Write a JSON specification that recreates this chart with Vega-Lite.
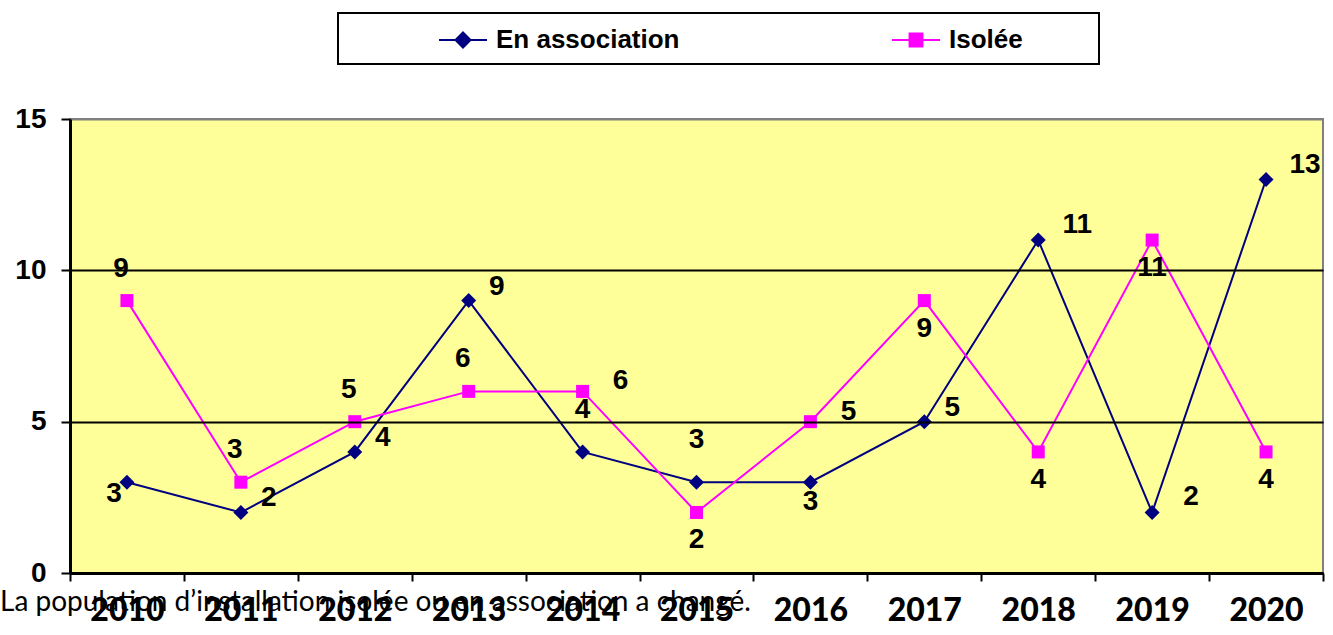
{
  "$schema": "https://vega.github.io/schema/vega-lite/v6.json",
  "width": 1253,
  "height": 454,
  "autosize": {"type": "none"},
  "padding": {"left": 70, "top": 119, "right": 10, "bottom": 62},
  "background": "white",
  "config": {
    "view": {"fill": "#FFFF99", "stroke": "#808080", "strokeWidth": 2}
  },
  "title": {
    "text": "La population d’installation isolée ou en association a changé.",
    "orient": "bottom",
    "anchor": "start",
    "frame": "group",
    "dx": -70,
    "offset": -37,
    "font": "Lato",
    "fontSize": 28,
    "fontWeight": "normal",
    "color": "black"
  },
  "data": {
    "values": [
      {"year": 2010, "series": "En association", "value": 3},
      {"year": 2011, "series": "En association", "value": 2},
      {"year": 2012, "series": "En association", "value": 4},
      {"year": 2013, "series": "En association", "value": 9},
      {"year": 2014, "series": "En association", "value": 4},
      {"year": 2015, "series": "En association", "value": 3},
      {"year": 2016, "series": "En association", "value": 3},
      {"year": 2017, "series": "En association", "value": 5},
      {"year": 2018, "series": "En association", "value": 11},
      {"year": 2019, "series": "En association", "value": 2},
      {"year": 2020, "series": "En association", "value": 13},
      {"year": 2010, "series": "Isolée", "value": 9},
      {"year": 2011, "series": "Isolée", "value": 3},
      {"year": 2012, "series": "Isolée", "value": 5},
      {"year": 2013, "series": "Isolée", "value": 6},
      {"year": 2014, "series": "Isolée", "value": 6},
      {"year": 2015, "series": "Isolée", "value": 2},
      {"year": 2016, "series": "Isolée", "value": 5},
      {"year": 2017, "series": "Isolée", "value": 9},
      {"year": 2018, "series": "Isolée", "value": 4},
      {"year": 2019, "series": "Isolée", "value": 11},
      {"year": 2020, "series": "Isolée", "value": 4}
    ]
  },
  "encoding": {
    "x": {
      "field": "year",
      "type": "ordinal",
      "scale": {"type": "band", "paddingInner": 0, "paddingOuter": 0},
      "axis": {
        "title": null,
        "labelAngle": 0,
        "tickBand": "extent",
        "grid": false,
        "domainColor": "black",
        "domainWidth": 3,
        "tickColor": "black",
        "tickWidth": 2,
        "tickSize": 8,
        "labelFont": "Lato",
        "labelFontWeight": 900,
        "labelFontSize": 32,
        "labelColor": "black",
        "labelPadding": 14,
        "zindex": 1
      }
    },
    "y": {
      "field": "value",
      "type": "quantitative",
      "scale": {"domain": [0, 15], "nice": false},
      "axis": {
        "title": null,
        "values": [0, 5, 10, 15],
        "grid": true,
        "gridColor": {"condition": {"test": "datum.value == 15", "value": "#808080"}, "value": "black"},
        "gridWidth": 2,
        "domainColor": "black",
        "domainWidth": 3,
        "tickColor": "black",
        "tickWidth": 2,
        "tickSize": 9,
        "labelFont": "Liberation Sans",
        "labelFontWeight": "bold",
        "labelFontSize": 28,
        "labelColor": "black",
        "labelPadding": 15,
        "zindex": 1
      }
    }
  },
  "layer": [
    {
      "mark": {"type": "line", "strokeWidth": 2},
      "encoding": {
        "color": {
          "field": "series",
          "type": "nominal",
          "scale": {"domain": ["En association", "Isolée"], "range": ["#000080", "#FF00FF"]},
          "legend": {
            "orient": "none",
            "legendX": 268,
            "legendY": -106,
            "direction": "horizontal",
            "title": " ",
            "titleOrient": "left",
            "titleFontSize": 2,
            "titlePadding": 98,
            "padding": 11,
            "strokeColor": "black",
            "fillColor": "white",
            "labelFont": "Liberation Sans",
            "labelFontWeight": "bold",
            "labelFontSize": 26,
            "labelColor": "black",
            "labelLimit": 400,
            "labelOffset": 17,
            "columnPadding": 208,
            "symbolSize": 900,
            "symbolStrokeWidth": 2,
            "labelExpr": "datum.value == 'Isolée' ? datum.label + '\u00a0\u00a0\u00a0\u00a0\u00a0\u00a0\u00a0\u00a0\u00a0\u200b' : datum.label",
            "encode": {
              "symbols": {
                "update": {
                  "shape": {"signal": "datum.value == 'Isolée' ? 'M-1.6,0H1.6M-0.43,-0.43H0.43V0.43H-0.43Z' : 'M-1.6,0H1.6M0,-0.5L0.5,0L0,0.5L-0.5,0Z'"},
                  "fill": {"signal": "scale('color', datum.value)"},
                  "stroke": {"signal": "scale('color', datum.value)"}
                }
              },
              "legend": {"update": {"strokeWidth": {"value": 2}}}
            }
          }
        }
      }
    },
    {
      "transform": [{"filter": {"field": "series", "equal": "En association"}}],
      "mark": {"type": "point", "shape": "diamond", "filled": true, "size": 225, "opacity": 1},
      "encoding": {"color": {"field": "series", "type": "nominal"}}
    },
    {
      "transform": [{"filter": {"field": "series", "equal": "Isolée"}}],
      "mark": {"type": "point", "shape": "square", "filled": true, "size": 169, "opacity": 1},
      "encoding": {"color": {"field": "series", "type": "nominal"}}
    },
    {
      "transform": [{"filter": {"and": [{"field": "series", "equal": "En association"}, {"field": "year", "oneOf": [2011, 2012, 2013, 2017]}]}}],
      "mark": {"type": "text", "font": "Liberation Sans", "fontWeight": "bold", "fontSize": 28, "color": "black", "align": "center", "baseline": "middle", "dx": 28, "dy": -14},
      "encoding": {"text": {"field": "value", "type": "quantitative"}}
    },
    {
      "transform": [{"filter": {"and": [{"field": "series", "equal": "En association"}, {"field": "year", "oneOf": [2018, 2019, 2020]}]}}],
      "mark": {"type": "text", "font": "Liberation Sans", "fontWeight": "bold", "fontSize": 28, "color": "black", "align": "center", "baseline": "middle", "dx": 39, "dy": -15},
      "encoding": {"text": {"field": "value", "type": "quantitative"}}
    },
    {
      "transform": [{"filter": {"and": [{"field": "series", "equal": "En association"}, {"field": "year", "oneOf": [2014, 2015]}]}}],
      "mark": {"type": "text", "font": "Liberation Sans", "fontWeight": "bold", "fontSize": 28, "color": "black", "align": "center", "baseline": "middle", "dx": 0, "dy": -42},
      "encoding": {"text": {"field": "value", "type": "quantitative"}}
    },
    {
      "transform": [{"filter": {"and": [{"field": "series", "equal": "En association"}, {"field": "year", "oneOf": [2010]}]}}],
      "mark": {"type": "text", "font": "Liberation Sans", "fontWeight": "bold", "fontSize": 28, "color": "black", "align": "center", "baseline": "middle", "dx": -13, "dy": 12},
      "encoding": {"text": {"field": "value", "type": "quantitative"}}
    },
    {
      "transform": [{"filter": {"and": [{"field": "series", "equal": "En association"}, {"field": "year", "oneOf": [2016]}]}}],
      "mark": {"type": "text", "font": "Liberation Sans", "fontWeight": "bold", "fontSize": 28, "color": "black", "align": "center", "baseline": "middle", "dx": 0, "dy": 20},
      "encoding": {"text": {"field": "value", "type": "quantitative"}}
    },
    {
      "transform": [{"filter": {"and": [{"field": "series", "equal": "Isolée"}, {"field": "year", "oneOf": [2010, 2011, 2012, 2013]}]}}],
      "mark": {"type": "text", "font": "Liberation Sans", "fontWeight": "bold", "fontSize": 28, "color": "black", "align": "center", "baseline": "middle", "dx": -6, "dy": -32},
      "encoding": {"text": {"field": "value", "type": "quantitative"}}
    },
    {
      "transform": [{"filter": {"and": [{"field": "series", "equal": "Isolée"}, {"field": "year", "oneOf": [2014, 2016]}]}}],
      "mark": {"type": "text", "font": "Liberation Sans", "fontWeight": "bold", "fontSize": 28, "color": "black", "align": "center", "baseline": "middle", "dx": 38, "dy": -10},
      "encoding": {"text": {"field": "value", "type": "quantitative"}}
    },
    {
      "transform": [{"filter": {"and": [{"field": "series", "equal": "Isolée"}, {"field": "year", "oneOf": [2015, 2017, 2018, 2019, 2020]}]}}],
      "mark": {"type": "text", "font": "Liberation Sans", "fontWeight": "bold", "fontSize": 28, "color": "black", "align": "center", "baseline": "middle", "dx": 0, "dy": 28},
      "encoding": {"text": {"field": "value", "type": "quantitative"}}
    }
  ]
}
